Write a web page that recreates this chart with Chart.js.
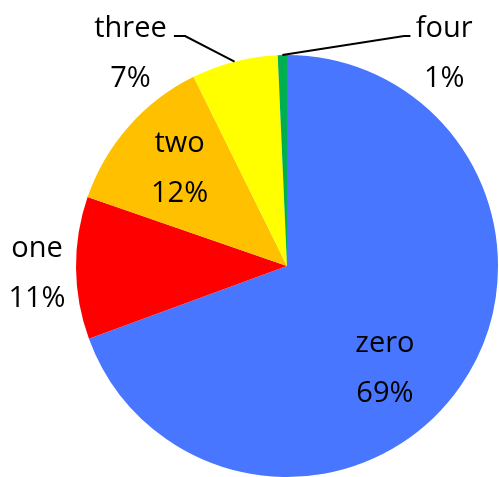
<!DOCTYPE html>
<html>
<head>
<meta charset="utf-8">
<script src="https://cdn.jsdelivr.net/npm/chart.js@4"></script>
<style>
html,body{margin:0;padding:0;background:#fff;}
#wrap{width:499px;height:477px;position:relative;}
</style>
</head>
<body>
<div id="wrap"><canvas id="c" width="499" height="477"></canvas></div>
<script>
const categories = ["zero", "one", "two", "three", "four"];
const values = [69.4, 10.9, 12.4, 6.6, 0.7];
const percentLabels = ["69%", "11%", "12%", "7%", "1%"];
const colors = ["#4876FF", "#FF0000", "#FFC000", "#FFFF00", "#00B050"];

// label anchors as fractions of radius relative to the pie center (first-line baseline)
const labelPos = [
  {fx: 0.464, fy: 0.408},
  {fx: -1.185, fy: -0.043},
  {fx: -0.509, fy: -0.540},
  {fx: -0.742, fy: -1.085},
  {fx: 0.745, fy: -1.085}
];
// leader lines: elbow and end points (fractions of radius), null when none
const leaders = [
  null, null, null,
  {ex: -0.483, ey: -1.090, tx: -0.536},
  {ex: 0.555, ey: -1.090, tx: 0.585}
];

const labelPlugin = {
  id: 'sliceLabels',
  afterDatasetsDraw(chart) {
    const ctx = chart.ctx;
    const meta = chart.getDatasetMeta(0);
    ctx.save();
    meta.data.forEach((arc, i) => {
      const cx = arc.x, cy = arc.y, r = arc.outerRadius;
      const ld = leaders[i];
      if (ld) {
        const mid = (arc.startAngle + arc.endAngle) / 2;
        const px = cx + Math.cos(mid) * r;
        const py = cy + Math.sin(mid) * r;
        ctx.beginPath();
        ctx.strokeStyle = '#000';
        ctx.lineWidth = 2;
        ctx.moveTo(px, py);
        ctx.lineTo(cx + ld.ex * r, cy + ld.ey * r);
        ctx.lineTo(cx + ld.tx * r, cy + ld.ey * r);
        ctx.stroke();
      }
      const p = labelPos[i];
      const x = cx + p.fx * r, y = cy + p.fy * r;
      ctx.fillStyle = '#000';
      ctx.font = '500 29px "Open Sans"';
      ctx.textAlign = 'center';
      ctx.textBaseline = 'alphabetic';
      ctx.fillText(categories[i], x, y);
      ctx.fillText(percentLabels[i], x, y + 50);
    });
    ctx.restore();
  }
};

new Chart(document.getElementById('c'), {
  type: 'pie',
  data: {
    labels: categories,
    datasets: [{
      data: values,
      backgroundColor: colors,
      borderWidth: 0
    }]
  },
  options: {
    responsive: false,
    animation: false,
    layout: {padding: {left: 76, right: 1, top: 55, bottom: 0}},
    plugins: {legend: {display: false}, tooltip: {enabled: false}}
  },
  plugins: [labelPlugin]
});
</script>
</body>
</html>
